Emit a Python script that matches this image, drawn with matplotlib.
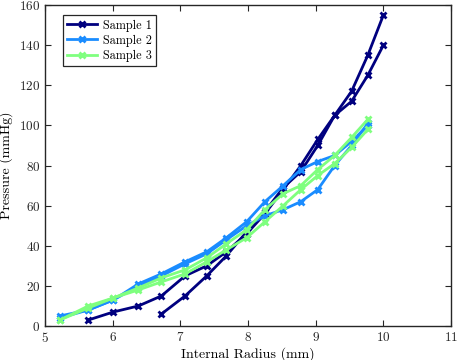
import matplotlib
matplotlib.use("Agg")
import matplotlib.pyplot as plt

plt.rcParams['font.family'] = ['cmr10', 'DejaVu Serif']
plt.rcParams['mathtext.fontset'] = 'cm'
plt.rcParams['axes.formatter.use_mathtext'] = True

# Sample 1 (two runs)
s1a_x = [5.64, 6.01, 6.38, 6.72, 7.07, 7.39, 7.68, 7.98, 8.25, 8.52, 8.78, 9.03, 9.28, 9.53, 9.77, 10.0]
s1a_y = [3, 7, 10, 15, 25, 30, 37, 46, 56, 68, 80, 93, 105, 117, 135, 155]
s1b_x = [6.72, 7.07, 7.39, 7.68, 7.98, 8.25, 8.52, 8.78, 9.03, 9.28, 9.53, 9.77, 10.0]
s1b_y = [6, 15, 25, 35, 47, 57, 69, 77, 90, 105, 112, 125, 140]

# Sample 2 (two runs)
s2_x = [5.22, 5.64, 6.01, 6.38, 6.72, 7.07, 7.39, 7.68, 7.98, 8.25, 8.52, 8.78, 9.03, 9.28, 9.53, 9.77]
s2a_y = [5, 8, 13, 21, 26, 32, 37, 44, 52, 62, 70, 78, 82, 85, 92, 100]
s2b_y = [4, 8, 13, 20, 25, 31, 36, 43, 50, 55, 58, 62, 68, 80, 90, 101]

# Sample 3 (two runs)
s3_x = [5.22, 5.64, 6.01, 6.38, 6.72, 7.07, 7.39, 7.68, 7.98, 8.25, 8.52, 8.78, 9.03, 9.28, 9.53, 9.77]
s3a_y = [3, 10, 14, 19, 24, 28, 34, 41, 48, 58, 66, 70, 78, 85, 94, 103]
s3b_y = [3, 9, 14, 18, 22, 26, 32, 38, 44, 52, 60, 68, 75, 81, 89, 98]

labels = ["Sample 1", "Sample 2", "Sample 3"]
colors = ["#00007F", "#1A8CFF", "#7FFF7F"]

fig = plt.figure(figsize=(4.57, 3.6), dpi=100)
ax = fig.add_axes([0.0985, 0.0944, 0.8885, 0.8916])

kw = dict(marker='x', markersize=5, markeredgewidth=2, linewidth=2.0)
ax.plot(s1a_x, s1a_y, color=colors[0], label=labels[0], **kw)
ax.plot(s1b_x, s1b_y, color=colors[0], **kw)
ax.plot(s2_x, s2a_y, color=colors[1], label=labels[1], **kw)
ax.plot(s2_x, s2b_y, color=colors[1], **kw)
ax.plot(s3_x, s3a_y, color=colors[2], label=labels[2], **kw)
ax.plot(s3_x, s3b_y, color=colors[2], **kw)

ax.set_xlim(5, 11)
ax.set_ylim(0, 160)
ax.set_xticks(range(5, 12))
ax.set_yticks(range(0, 161, 20))
ax.tick_params(direction='in', top=True, right=True, labelsize=9.5, length=4, colors='#262626')
for sp in ax.spines.values():
    sp.set_color('#262626')
    sp.set_linewidth(1.0)

ax.set_xlabel("Internal Radius (mm)", fontsize=10, labelpad=2)
ax.set_ylabel("Pressure (mmHg)", fontsize=10, labelpad=4)

leg = ax.legend(loc='upper left', bbox_to_anchor=(0.035, 0.98), fontsize=8.8, fancybox=False,
                edgecolor='#262626', framealpha=1, handlelength=2.4, handletextpad=0.5,
                borderpad=0.35, labelspacing=0.25, borderaxespad=0.3)
leg.get_frame().set_linewidth(0.9)

fig.savefig("out.png", dpi=100)
